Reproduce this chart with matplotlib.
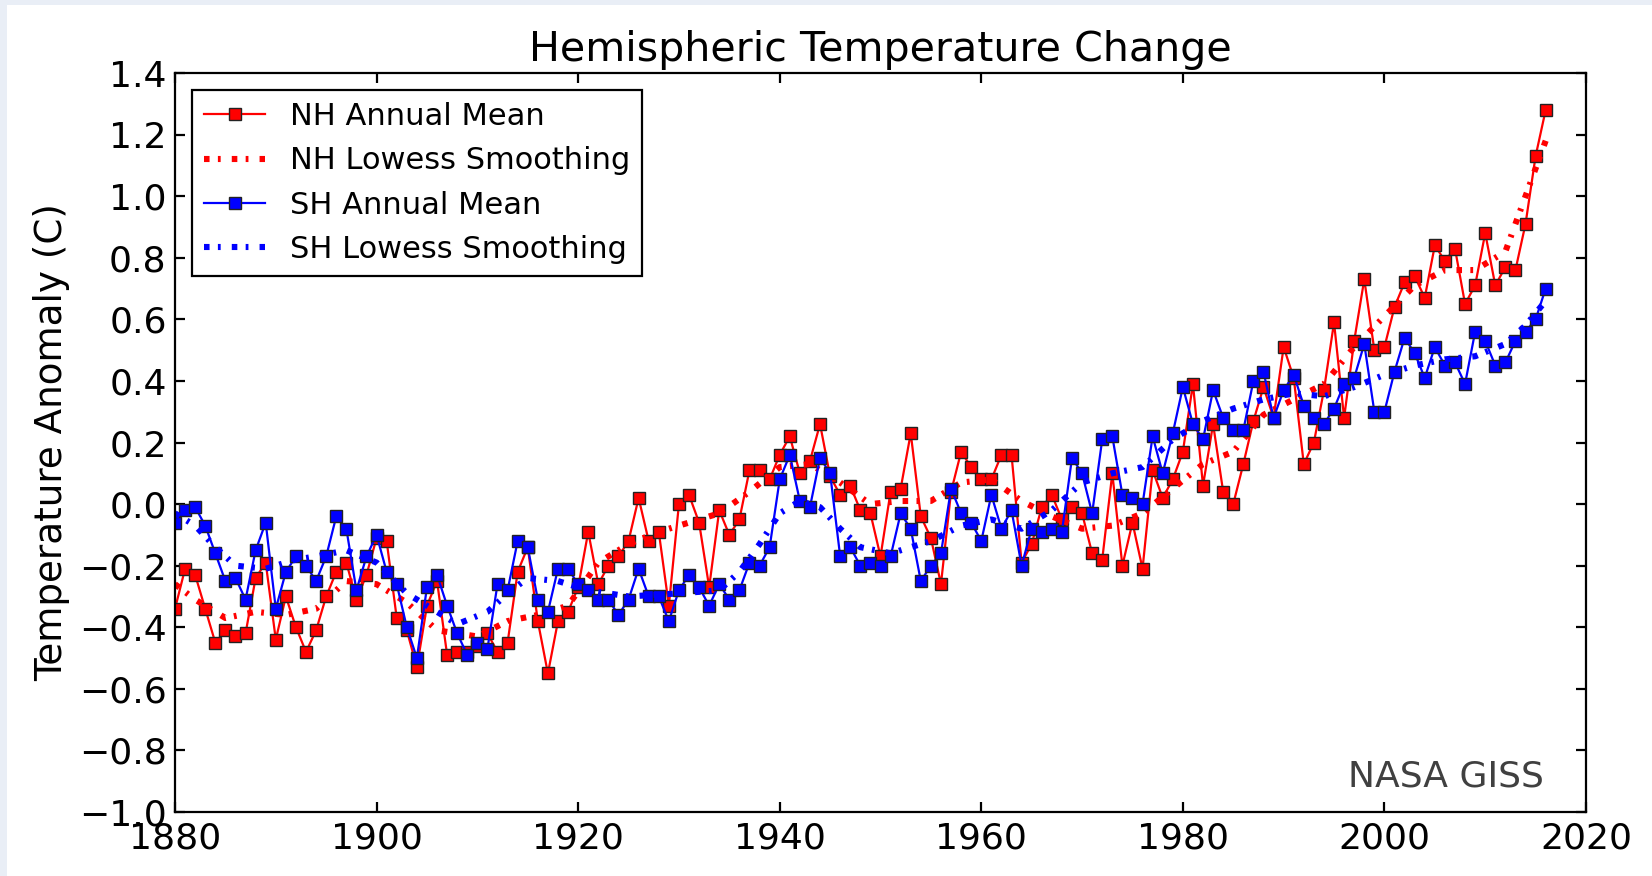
import numpy as np
import matplotlib
matplotlib.use("Agg")
import matplotlib.pyplot as plt
from matplotlib.patches import Rectangle
from matplotlib.ticker import FuncFormatter

### rcParams ###
plt.rcParams['font.family'] = 'DejaVu Sans'
plt.rcParams['font.size'] = 13
plt.rcParams['xtick.direction'] = 'in'
plt.rcParams['ytick.direction'] = 'in'
plt.rcParams['xtick.top'] = True
plt.rcParams['ytick.right'] = True
plt.rcParams['xtick.major.size'] = 3.5
plt.rcParams['ytick.major.size'] = 3.5
plt.rcParams['xtick.major.pad'] = 3.5
plt.rcParams['ytick.major.pad'] = 3.0
plt.rcParams['lines.scale_dashes'] = False

years = np.arange(1880, 2017)

# annual means, deg C
nh_annual = [
    -0.34, -0.21, -0.23, -0.34, -0.45, -0.41, -0.43, -0.42, -0.24, -0.19,   # 1880s
    -0.44, -0.30, -0.40, -0.48, -0.41, -0.30, -0.22, -0.19, -0.31, -0.23,   # 1890s
    -0.11, -0.12, -0.37, -0.41, -0.53, -0.33, -0.25, -0.49, -0.48, -0.48,   # 1900s
    -0.46, -0.42, -0.48, -0.45, -0.22, -0.14, -0.38, -0.55, -0.38, -0.35,   # 1910s
    -0.27, -0.09, -0.26, -0.20, -0.17, -0.12, 0.02, -0.12, -0.09, -0.33,    # 1920s
    0.00, 0.03, -0.06, -0.27, -0.02, -0.10, -0.05, 0.11, 0.11, 0.08,        # 1930s
    0.16, 0.22, 0.10, 0.14, 0.26, 0.09, 0.03, 0.06, -0.02, -0.03,           # 1940s
    -0.17, 0.04, 0.05, 0.23, -0.04, -0.11, -0.26, 0.04, 0.17, 0.12,         # 1950s
    0.08, 0.08, 0.16, 0.16, -0.19, -0.13, -0.01, 0.03, -0.05, -0.01,        # 1960s
    -0.03, -0.16, -0.18, 0.10, -0.20, -0.06, -0.21, 0.11, 0.02, 0.08,       # 1970s
    0.17, 0.39, 0.06, 0.26, 0.04, 0.00, 0.13, 0.27, 0.38, 0.28,             # 1980s
    0.51, 0.41, 0.13, 0.20, 0.37, 0.59, 0.28, 0.53, 0.73, 0.50,             # 1990s
    0.51, 0.64, 0.72, 0.74, 0.67, 0.84, 0.79, 0.83, 0.65, 0.71,             # 2000s
    0.88, 0.71, 0.77, 0.76, 0.91, 1.13, 1.28,                               # 2010s
]
sh_annual = [
    -0.06, -0.02, -0.01, -0.07, -0.16, -0.25, -0.24, -0.31, -0.15, -0.06,
    -0.34, -0.22, -0.17, -0.20, -0.25, -0.17, -0.04, -0.08, -0.28, -0.17,
    -0.10, -0.22, -0.26, -0.40, -0.50, -0.27, -0.23, -0.33, -0.42, -0.49,
    -0.45, -0.47, -0.26, -0.28, -0.12, -0.14, -0.31, -0.35, -0.21, -0.21,
    -0.26, -0.28, -0.31, -0.31, -0.36, -0.31, -0.21, -0.30, -0.30, -0.38,
    -0.28, -0.23, -0.27, -0.33, -0.26, -0.31, -0.28, -0.19, -0.20, -0.14,
    0.08, 0.16, 0.01, -0.01, 0.15, 0.10, -0.17, -0.14, -0.20, -0.19,
    -0.20, -0.17, -0.03, -0.08, -0.25, -0.20, -0.16, 0.05, -0.03, -0.06,
    -0.12, 0.03, -0.08, -0.02, -0.20, -0.08, -0.09, -0.08, -0.09, 0.15,
    0.10, -0.03, 0.21, 0.22, 0.03, 0.02, 0.00, 0.22, 0.10, 0.23,
    0.38, 0.26, 0.21, 0.37, 0.28, 0.24, 0.24, 0.40, 0.43, 0.28,
    0.37, 0.42, 0.32, 0.28, 0.26, 0.31, 0.39, 0.41, 0.52, 0.30,
    0.30, 0.43, 0.54, 0.49, 0.41, 0.51, 0.45, 0.46, 0.39, 0.56,
    0.53, 0.45, 0.46, 0.53, 0.56, 0.60, 0.70,
]

# lowess curves
nh_smooth_years = [1880, 1882, 1885, 1888, 1891, 1894, 1897, 1900, 1903, 1906,
                   1910, 1913, 1916, 1919, 1922, 1925, 1928, 1931, 1934, 1937,
                   1940, 1943, 1946, 1949, 1952, 1955, 1958, 1961, 1964, 1967,
                   1970, 1973, 1976, 1979, 1982, 1985, 1988, 1991, 1994, 1997,
                   2000, 2003, 2006, 2009, 2012, 2014, 2016]
nh_smooth = [-0.26, -0.31, -0.37, -0.35, -0.36, -0.34, -0.25, -0.26, -0.32, -0.41,
             -0.43, -0.38, -0.36, -0.33, -0.19, -0.13, -0.09, -0.06, -0.03, 0.04,
             0.12, 0.13, 0.07, 0.00, 0.01, 0.01, 0.07, 0.08, 0.01, -0.04,
             -0.08, -0.07, -0.03, 0.05, 0.13, 0.17, 0.29, 0.34, 0.39, 0.51,
             0.61, 0.71, 0.76, 0.76, 0.82, 1.00, 1.18]
sh_smooth_years = [1880, 1882, 1884, 1886, 1889, 1892, 1894, 1897, 1900, 1903,
                   1906, 1908, 1911, 1913, 1915, 1918, 1921, 1925, 1930, 1934,
                   1936, 1938, 1940, 1942, 1944, 1946, 1948, 1951, 1955, 1958,
                   1961, 1964, 1967, 1970, 1973, 1976, 1979, 1982, 1985, 1988,
                   1991, 1994, 1997, 2000, 2003, 2006, 2009, 2012, 2014, 2016]
sh_smooth = [-0.03, -0.07, -0.14, -0.20, -0.21, -0.18, -0.17, -0.15, -0.19, -0.29,
             -0.35, -0.39, -0.35, -0.29, -0.24, -0.25, -0.28, -0.30, -0.29, -0.28,
             -0.22, -0.13, -0.03, 0.01, -0.01, -0.08, -0.14, -0.16, -0.12, -0.07,
             -0.05, -0.08, -0.02, 0.07, 0.10, 0.12, 0.21, 0.27, 0.31, 0.34,
             0.36, 0.35, 0.38, 0.42, 0.45, 0.47, 0.48, 0.52, 0.58, 0.66]

W, H, DPI = 1652, 876, 200
fig = plt.figure(figsize=(W / DPI, H / DPI), dpi=DPI, facecolor='#e9eef6')
# white page with a thin tinted strip on the left and top
fig.patches.append(Rectangle((7 / W, 0), 1, 1 - 5 / H, transform=fig.transFigure,
                             facecolor='white', edgecolor='none', zorder=-10))
ax = fig.add_axes([175 / W, 1 - 812 / H, (1586 - 175) / W, (812 - 73) / H])

mean_kw = dict(marker='s', markersize=4.6, markeredgecolor='#222222',
               markeredgewidth=0.5, linewidth=0.8)
dot_kw = dict(linewidth=2.2, dashes=(2.0, 3.0, 1.0, 4.0), dash_capstyle='butt')

ax.plot(years, nh_annual, color='red', markerfacecolor='red',
        label='NH Annual Mean', **mean_kw)
ax.plot(nh_smooth_years, nh_smooth, color='red', label='NH Lowess Smoothing', **dot_kw)
ax.plot(years, sh_annual, color='blue', markerfacecolor='blue',
        label='SH Annual Mean', **mean_kw)
ax.plot(sh_smooth_years, sh_smooth, color='blue', label='SH Lowess Smoothing', **dot_kw)

ax.set_xlim(1880, 2020)
ax.set_ylim(-1.0, 1.4)
ax.set_xticks(np.arange(1880, 2021, 20))
ax.set_yticks(np.arange(-1.0, 1.41, 0.2))
ax.yaxis.set_major_formatter(
    FuncFormatter(lambda v, pos: f"{round(v, 1) + 0.0:.1f}".replace('-', '\u2212')))
ax.tick_params(labelsize=13)
for s in ax.spines.values():
    s.set_linewidth(0.8)

ax.set_ylabel('Temperature Anomaly (C)', fontsize=13.4, labelpad=3)
ax.set_title('Hemispheric Temperature Change', fontsize=14.8, pad=4.5)

ax.text(0.97, 0.025, 'NASA GISS', transform=ax.transAxes, ha='right', va='bottom',
        fontsize=13, color='#404040')

leg = ax.legend(loc='upper left', numpoints=1, fontsize=11, fancybox=False,
                framealpha=1, edgecolor='black', handlelength=2.0,
                borderaxespad=0.55)
leg.get_frame().set_linewidth(0.8)

fig.savefig('out.png', dpi=DPI, facecolor=fig.get_facecolor())
